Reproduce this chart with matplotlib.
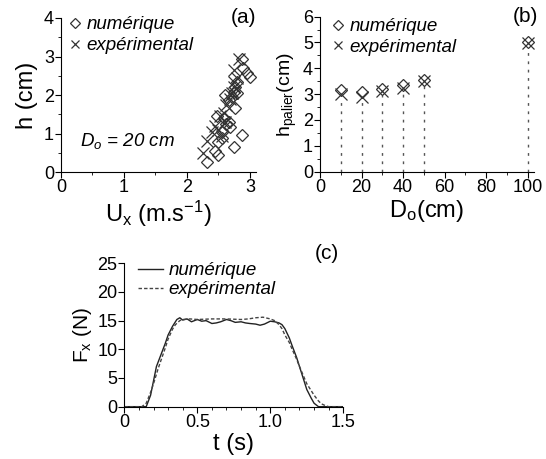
# Recreate the three-panel figure (a), (b), (c)
import matplotlib
matplotlib.use("Agg")
import matplotlib.pyplot as plt
from matplotlib.ticker import MultipleLocator

plt.rcParams['font.family'] = ['Liberation Sans', 'DejaVu Sans']
plt.rcParams['mathtext.fontset'] = 'custom'
plt.rcParams['mathtext.rm'] = 'Liberation Sans'
plt.rcParams['mathtext.it'] = 'Liberation Sans:italic'

# ---- panel (a): h vs Ux, Do = 20 cm
ux_num = [2.87, 2.89, 2.95, 3.00, 2.79, 2.76, 2.74, 2.71, 2.60, 2.66, 2.76,
          2.47, 2.66, 2.68, 2.55, 2.50, 2.87, 2.74, 2.55, 2.50, 2.31, 2.62,
          2.58, 2.80, 2.45]
h_num = [2.93, 2.70, 2.57, 2.47, 2.35, 2.22, 2.09, 1.96, 2.00, 1.88, 1.66,
         1.45, 1.31, 1.18, 1.05, 0.78, 0.97, 0.66, 0.88, 0.45, 0.27, 1.25,
         1.40, 2.05, 0.55]
ux_exp = [2.26, 2.31, 2.40, 2.45, 2.52, 2.50, 2.58, 2.62, 2.68, 2.72, 2.75,
          2.74, 2.80, 2.75, 2.82, 2.60, 2.55]
h_exp = [0.50, 0.82, 1.05, 1.20, 1.45, 1.10, 1.55, 1.75, 1.90, 2.05, 2.20,
         2.35, 2.45, 2.65, 2.95, 1.30, 0.95]

# ---- panel (b): h_palier vs Do
do_cm = [10, 20, 30, 40, 50, 100]
hp_num = [3.15, 3.10, 3.20, 3.35, 3.55, 5.00]
hp_exp = [3.00, 2.88, 3.12, 3.22, 3.52, 4.98]

# ---- panel (c): Fx vs t
t_num = [0.00, 0.10, 0.15, 0.18, 0.20, 0.22, 0.25, 0.28, 0.30, 0.33, 0.36,
         0.38, 0.40, 0.43, 0.46, 0.50, 0.53, 0.56, 0.60, 0.63, 0.66, 0.70,
         0.73, 0.76, 0.80, 0.83, 0.86, 0.90, 0.93, 0.96, 1.00, 1.03, 1.06,
         1.08, 1.10, 1.13, 1.15, 1.18, 1.20, 1.23, 1.25, 1.28, 1.30, 1.33,
         1.40, 1.50]
f_num = [0.0, 0.0, 0.0, 2.0, 4.5, 7.0, 9.0, 11.0, 12.5, 14.0, 15.2,
         15.5, 15.1, 15.3, 14.8, 15.2, 14.9, 15.0, 14.5, 14.6, 14.8, 15.2,
         15.0, 14.7, 14.8, 14.6, 14.5, 14.4, 14.2, 14.4, 14.9, 14.8, 14.6,
         14.3, 13.6, 12.0, 10.6, 8.6, 7.0, 4.6, 3.0, 1.5, 0.6, 0.0,
         0.0, 0.0]
t_exp = [0.00, 0.10, 0.12, 0.15, 0.18, 0.20, 0.23, 0.25, 0.28, 0.30, 0.33,
         0.35, 0.38, 0.40, 0.45, 0.50, 0.60, 0.70, 0.80, 0.85, 0.90, 0.95,
         1.00, 1.03, 1.06, 1.08, 1.10, 1.13, 1.15, 1.18, 1.20, 1.23, 1.25,
         1.28, 1.30, 1.33, 1.35, 1.38, 1.40, 1.50]
f_exp = [0.0, 0.0, 0.0, 0.6, 2.5, 4.0, 6.5, 8.0, 10.2, 11.8, 13.5,
         14.3, 15.0, 15.2, 15.3, 15.2, 15.3, 15.3, 15.2, 15.3, 15.5, 15.6,
         15.3, 15.0, 14.3, 13.6, 12.5, 11.2, 10.0, 8.3, 7.0, 5.2, 4.0,
         2.8, 2.0, 1.0, 0.5, 0.15, 0.0, 0.0]

fig = plt.figure(figsize=(5.46, 4.59), dpi=100)

def style_axes(ax):
    ax.spines['top'].set_visible(False)
    ax.spines['right'].set_visible(False)
    ax.tick_params(which='major', direction='out', length=4, width=0.8,
                   labelsize=13, pad=1)
    ax.tick_params(which='minor', direction='out', length=2, width=0.6)

# (a)
ax1 = fig.add_axes([0.1117, 0.6246, 0.3577, 0.3362])
ax1.plot(ux_num, h_num, linestyle='none', marker='D', ms=6, mfc='none',
         mec='#333333', mew=0.9, label='numérique')
ax1.plot(ux_exp, h_exp, linestyle='none', marker='x', ms=8,
         color='#333333', mew=0.9, label='expérimental')
ax1.set_xlim(0, 3.1)
ax1.set_ylim(0, 4)
ax1.xaxis.set_major_locator(MultipleLocator(1))
ax1.xaxis.set_minor_locator(MultipleLocator(0.5))
ax1.yaxis.set_major_locator(MultipleLocator(1))
ax1.yaxis.set_minor_locator(MultipleLocator(0.5))
style_axes(ax1)
ax1.set_xlabel(r'U$_{\mathregular{x}}$ (m.s$^{\mathregular{-1}}$)',
               fontsize=17, labelpad=2)
ax1.set_ylabel('h (cm)', fontsize=17, labelpad=4)
ax1.legend(loc='upper left', bbox_to_anchor=(-0.01, 1.06), frameon=False,
           handletextpad=0.15, handlelength=0.9, markerscale=0.8,
           borderaxespad=0, labelspacing=0.2,
           prop={'style': 'italic', 'size': 13.5})
ax1.text(0.095, 0.17, '$D_o$ = 20 cm', transform=ax1.transAxes,
         fontsize=13.5, style='italic')
ax1.text(1.0, 1.0, '(a)', transform=ax1.transAxes, fontsize=15,
         ha='right', va='center')

# (b)
ax2 = fig.add_axes([0.586, 0.626, 0.392, 0.3377])
ax2.vlines(do_cm, 0, [min(a, b) - 0.15 for a, b in zip(hp_num, hp_exp)],
           colors='#555555', linestyles=(0, (2, 4)), linewidth=1.0)
ax2.plot(do_cm, hp_num, linestyle='none', marker='D', ms=6, mfc='none',
         mec='#333333', mew=0.9, label='numérique')
ax2.plot(do_cm, hp_exp, linestyle='none', marker='x', ms=8,
         color='#333333', mew=0.9, label='expérimental')
ax2.set_xlim(0, 103)
ax2.set_ylim(0, 6)
ax2.xaxis.set_major_locator(MultipleLocator(20))
ax2.xaxis.set_minor_locator(MultipleLocator(10))
ax2.yaxis.set_major_locator(MultipleLocator(1))
ax2.yaxis.set_minor_locator(MultipleLocator(0.5))
style_axes(ax2)
ax2.set_xlabel(r'D$_{\mathregular{o}}$(cm)', fontsize=17, labelpad=2)
ax2.set_ylabel(r'h$_{\mathregular{palier}}$(cm)', fontsize=14, labelpad=3)
ax2.legend(loc='upper left', bbox_to_anchor=(0.01, 1.04), frameon=False,
           handletextpad=0.15, handlelength=0.9, markerscale=0.8,
           borderaxespad=0, labelspacing=0.2,
           prop={'style': 'italic', 'size': 13.5})
ax2.text(1.02, 1.0, '(b)', transform=ax2.transAxes, fontsize=15,
         ha='right', va='center')

# (c)
ax3 = fig.add_axes([0.2277, 0.114, 0.401, 0.3124])
ax3.plot(t_num, f_num, color='#222222', linewidth=1.0, label='numérique')
ax3.plot(t_exp, f_exp, color='#444444', linewidth=1.0,
         linestyle=(0, (2.5, 1.5)), label='expérimental')
ax3.set_xlim(0, 1.5)
ax3.set_ylim(0, 25)
ax3.set_xticks([0, 0.5, 1.0, 1.5])
ax3.set_xticklabels(['0', '0.5', '1.0', '1.5'])
ax3.xaxis.set_minor_locator(MultipleLocator(0.1))
ax3.yaxis.set_major_locator(MultipleLocator(5))
style_axes(ax3)
ax3.set_xlabel('t (s)', fontsize=17, labelpad=2)
ax3.set_ylabel(r'F$_{\mathregular{x}}$ (N)', fontsize=15, labelpad=2)
ax3.legend(loc='upper left', bbox_to_anchor=(0.03, 1.06), frameon=False,
           handletextpad=0.3, handlelength=1.3, borderaxespad=0,
           labelspacing=0.1, prop={'style': 'italic', 'size': 13.5})
ax3.text(0.98, 1.07, '(c)', transform=ax3.transAxes, fontsize=15,
         ha='right', va='center')

fig.savefig('out.png', dpi=100)
